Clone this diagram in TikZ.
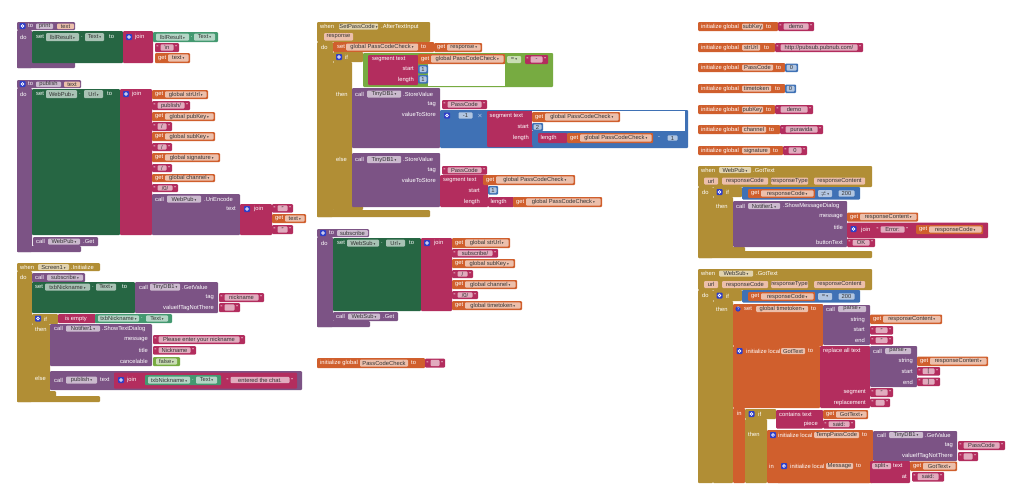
\documentclass[tikz,border=0pt]{standalone}
\usepackage{fontspec}
\setmainfont{Liberation Sans}
\newfontfamily\symfont{DejaVu Sans}

\definecolor{procC}{HTML}{7C5385}
\definecolor{setC}{HTML}{266643}
\definecolor{getC}{HTML}{439970}
\definecolor{txtC}{HTML}{B32D5E}
\definecolor{varC}{HTML}{D05F2D}
\definecolor{ctlC}{HTML}{B18E35}
\definecolor{mathC}{HTML}{3F71B5}
\definecolor{logC}{HTML}{77AB41}
\definecolor{gearC}{HTML}{2F3FC8}

\newcommand\aifont{\fontsize{5.8}{6.5}\selectfont}
\newcommand\dd{\,{\symfont\fontsize{3.5}{4}\selectfont ▾}}

\tikzset{
	blklbl/.style={anchor=west, inner sep=0pt, text=white, font=\aifont},
	fldlbl/.style={inner sep=0pt, text=black!80, font=\aifont}
}

\newcount\lblno
% block body, label, field
\newcommand\aiblk[5]{\fill[#1, rounded corners=1pt] ({#2},{#3}) rectangle ({#4},{#5});}
\newcommand\ailbl[4][]{\global\advance\lblno by 1\relax
	\node[blklbl,#1] (lbl\the\lblno) at ({#2},{#3}) {#4};}
\newcommand\aifld[6]{\fill[#1!40!white, rounded corners=1pt] ({#2},{#3}) rectangle ({#4},{#5});
	\global\advance\lblno by 1\relax
	\node[fldlbl] (fld\the\lblno) at ({(#2+#4)/2},{(#3+#5)/2}) {#6};}
% get, text and number blocks
\newcommand\aiget[5]{\aiblk{varC}{#1}{#2}{#3}{#4}
	\ailbl{#1+3}{(#2+#4)/2}{get}
	\aifld{varC}{#1+13}{#2+1.3}{#3-1.5}{#4-1.3}{#5\dd}}
\newcommand\aistr[5]{\aiblk{txtC}{#1}{#2}{#3}{#4}
	\ailbl{#1+1.5}{(#2+#4)/2}{“}
	\ailbl[anchor=east]{#3-1.5}{(#2+#4)/2}{”}
	\aifld{txtC}{#1+5.5}{#2+1.3}{#3-5.5}{#4-1.3}{#5}}
\newcommand\ainum[5]{\aiblk{mathC}{#1}{#2}{#3}{#4}
	\aifld{mathC}{#1+1.5}{#2+1.3}{#3-1.5}{#4-1.3}{#5}}
\newcommand\aigear[2]{\fill[gearC, rounded corners=0.8pt] ({#1},{#2}) rectangle ++(6,6);
	\draw[white, line width=0.6pt] ({#1+3},{#2+3}) circle (1.4);}

\begin{document}
\begin{tikzpicture}[x=1pt, y=-1pt]
	\fill[white] (0,0) rectangle (1024,483);
	\useasboundingbox (0,0) rectangle (1024,483);

	% to print
	\aiblk{procC}{17}{22}{75}{30}
	\aiblk{procC}{17}{30}{32}{68}
	\aiblk{procC}{17}{62}{75}{68}
	\aigear{19.5}{23}
	\ailbl{28}{26}{to}
	\aifld{procC}{36}{23.5}{53}{29}{print}
	\aifld{varC}{57}{23.5}{74}{29}{text}
	\ailbl{20}{37}{do}
	\aiblk{setC}{32}{31}{123}{63}
	\ailbl{36}{37}{set}
	\aifld{setC}{46}{33}{79}{41}{lblResult\dd}
	\ailbl{81}{37}{.}
	\aifld{setC}{85}{33}{104}{41}{Text\dd}
	\ailbl{109}{37}{to}
	\aiblk{txtC}{123}{31}{153}{63}
	\aigear{126}{34}
	\ailbl{135}{37}{join}
	\aiblk{getC}{153}{32}{218}{42}
	\aifld{getC}{156}{33.5}{189}{40.5}{lblResult\dd}
	\ailbl{190.5}{37}{.}
	\aifld{getC}{194}{33.5}{215}{40.5}{Text\dd}
	\aistr{155}{43}{179}{52}{\textbackslash n}
	\aiget{155}{53}{190}{63}{text}

	% to publish
	\aiblk{procC}{17}{80}{81}{88}
	\aiblk{procC}{17}{88}{32}{252}
	\aiblk{procC}{17}{246}{81}{252}
	\aigear{19.5}{81}
	\ailbl{28}{84}{to}
	\aifld{procC}{36}{81.5}{61}{87}{publish}
	\aifld{varC}{64}{81.5}{80}{87}{text}
	\ailbl{20}{94}{do}
	\aiblk{setC}{32}{89}{120}{235}
	\ailbl{36}{94}{set}
	\aifld{setC}{46}{90}{77}{98}{WebPub\dd}
	\ailbl{79}{94}{.}
	\aifld{setC}{84}{90}{103}{98}{Url\dd}
	\ailbl{107}{94}{to}
	\aiblk{txtC}{120}{89}{152}{235}
	\aigear{123}{91}
	\ailbl{132}{94}{join}
	\aiget{152}{90}{208}{99}{global strUrl}
	\aistr{152}{101}{190}{110}{publish/}
	\aiget{152}{112}{215}{121}{global pubKey}
	\aistr{152}{122}{172}{131}{/}
	\aiget{152}{132}{215}{141}{global subKey}
	\aistr{152}{143}{172}{151}{/}
	\aiget{152}{153}{220}{162}{global signature}
	\aistr{152}{164}{172}{172}{/}
	\aiget{152}{174}{215}{182}{global channel}
	\aistr{152}{184}{178}{192}{/0/}
	\aiblk{procC}{152}{194}{240}{235}
	\ailbl{155}{199}{call}
	\aifld{procC}{167}{195.5}{201}{202.5}{WebPub\dd}
	\ailbl{204}{199}{.UriEncode}
	\ailbl[anchor=east]{236}{209}{text}
	\aiblk{txtC}{240}{204}{272}{235}
	\aigear{244}{206}
	\ailbl{254}{209}{join}
	\aistr{272}{204}{293}{212.5}{"}
	\aiget{272}{214}{306}{223}{text}
	\aistr{272}{225}{293}{234}{"}
	\aiblk{procC}{33}{237}{98}{246}
	\ailbl{36}{241.5}{call}
	\aifld{procC}{48}{238.5}{80}{244.5}{WebPub\dd}
	\ailbl{83}{241.5}{.Get}

	% when Screen1.Initialize
	\aiblk{ctlC}{17}{263}{100}{271}
	\aiblk{ctlC}{17}{271}{32}{402}
	\aiblk{ctlC}{17}{396}{100}{402}
	\ailbl{20}{267}{when}
	\aifld{ctlC}{38}{264}{69}{270}{Screen1\dd}
	\ailbl{71}{267}{.Initialize}
	\ailbl{20}{277}{do}
	\aiblk{procC}{32}{273}{85}{282}
	\ailbl{35}{277.5}{call}
	\aifld{procC}{47}{274.5}{83}{280.5}{subscribe\dd}
	\aiblk{setC}{32}{282}{135}{313}
	\ailbl{35}{287}{set}
	\aifld{setC}{45}{283.5}{90}{290.5}{txbNickname\dd}
	\ailbl{92}{287}{.}
	\aifld{setC}{96}{283.5}{116}{290.5}{Text\dd}
	\ailbl{122}{287}{to}
	\aiblk{procC}{135}{282}{218}{313}
	\ailbl{139}{287}{call}
	\aifld{procC}{150}{283.5}{180}{290.5}{TinyDB1\dd}
	\ailbl{182}{287}{.GetValue}
	\ailbl[anchor=east]{214}{297.5}{tag}
	\ailbl[anchor=east]{214}{307.5}{valueIfTagNotThere}
	\aistr{219}{293}{264}{302}{nickname}
	\aistr{219}{303}{240}{312}{}
	\aiblk{ctlC}{32}{314}{58}{324}
	\aiblk{ctlC}{32}{324}{50}{397}
	\aiblk{ctlC}{32}{391}{56}{397}
	\aigear{35}{315.5}
	\ailbl{44}{319}{if}
	\ailbl{35}{329}{then}
	\ailbl{35}{378}{else}
	\aiblk{txtC}{58}{314}{96}{323}
	\ailbl{65}{318.5}{is empty}
	\aiblk{getC}{95}{314}{172}{323}
	\aifld{getC}{98}{315.3}{139}{321.7}{txbNickname\dd}
	\ailbl{141}{318.5}{.}
	\aifld{getC}{146}{315.3}{168}{321.7}{Text\dd}
	\aiblk{procC}{50}{324}{152}{366}
	\ailbl{54}{328.5}{call}
	\aifld{procC}{66}{325.5}{100}{331.5}{Notifier1\dd}
	\ailbl{102}{328.5}{.ShowTextDialog}
	\ailbl[anchor=east]{148}{340}{message}
	\ailbl[anchor=east]{148}{350}{title}
	\ailbl[anchor=east]{148}{361.5}{cancelable}
	\aistr{153}{335}{245}{344}{Please enter your nickname}
	\aistr{153}{346}{196}{354.5}{Nickname}
	\aiblk{logC}{153}{357}{180}{366}
	\aifld{logC}{156}{358.3}{177}{364.7}{false\dd}
	\aiblk{procC}{50}{371}{302}{390}
	\ailbl{54}{380}{call}
	\aifld{procC}{66}{376.5}{97}{383.5}{publish\dd}
	\ailbl{100}{380}{text}
	\aiblk{txtC}{114}{372.5}{297}{388.5}
	\aigear{118}{377}
	\ailbl{127}{380}{join}
	\aiblk{getC}{145}{375}{221}{385}
	\aifld{getC}{148}{376.5}{190}{383.5}{txbNickname\dd}
	\ailbl{192}{380}{.}
	\aifld{getC}{196}{376.5}{217}{383.5}{Text\dd}
	\aistr{225}{375.5}{295}{384.5}{entered the chat.}

	% when SetPassCode.AfterTextInput
	\aiblk{ctlC}{317}{22}{430}{42}
	\aiblk{ctlC}{317}{42}{333}{217}
	\aiblk{ctlC}{317}{210}{430}{217}
	\ailbl{320}{26.5}{when}
	\aifld{ctlC}{339}{23.5}{378}{29.5}{SetPassCode\dd}
	\ailbl{381}{26.5}{.AfterTextInput}
	\aifld{varC}{324}{33}{353}{40.5}{response}
	\ailbl{321}{47}{do}
	\aiblk{varC}{333}{42}{434}{52}
	\ailbl{337}{47}{set}
	\aifld{varC}{346}{43.5}{418}{50.5}{global PassCodeCheck\dd}
	\ailbl{421}{47}{to}
	\aiget{434}{43}{482}{52}{response}
	\aiblk{ctlC}{333}{52}{363}{62}
	\aiblk{ctlC}{333}{62}{352}{210}
	\aiblk{ctlC}{333}{204}{363}{210}
	\aigear{336}{54}
	\ailbl{345}{57}{if}
	\ailbl{336}{94}{then}
	\ailbl{336}{159}{else}
	\aiblk{logC}{363}{53}{553}{87}
	\aiblk{txtC}{368}{55}{418}{85}
	\ailbl{372}{59.5}{segment text}
	\ailbl[anchor=east]{414}{69}{start}
	\ailbl[anchor=east]{414}{79.5}{length}
	\fill[white] (428,64) rectangle (505,86);
	\aiget{418}{54}{505}{64}{global PassCodeCheck}
	\ainum{418}{65}{428}{73.5}{1}
	\ainum{418}{75}{428}{83.5}{1}
	\aifld{logC}{507}{56}{521}{63}{=\dd}
	\aistr{525}{55}{548}{64}{-}
	\aiblk{procC}{352}{88}{440}{148}
	\ailbl{355}{94}{call}
	\aifld{procC}{367}{90.5}{401}{97.5}{TinyDB1\dd}
	\ailbl{403}{94}{.StoreValue}
	\ailbl[anchor=east]{436}{104.5}{tag}
	\ailbl[anchor=east]{436}{114.5}{valueToStore}
	\aistr{442}{100}{487}{109}{PassCode}
	\aiblk{mathC}{440}{110}{688}{148}
	\aigear{444}{112.5}
	\ainum{457}{111}{474}{120}{-1}
	\ailbl{477}{116}{\ensuremath{\times}}
	\aiblk{txtC}{487}{111}{533}{147}
	\ailbl{489.5}{116.5}{segment text}
	\ailbl[anchor=east]{529}{127}{start}
	\ailbl[anchor=east]{529}{138}{length}
	\fill[white] (532,111) rectangle (685,131);
	\aiget{532}{112}{620}{122}{global PassCodeCheck}
	\ainum{532}{123}{543}{131}{2}
	\aiblk{mathC}{532}{131}{685}{146}
	\aiblk{txtC}{538}{133}{567}{143}
	\ailbl{540.5}{138}{length}
	\aiget{567}{133}{653}{143}{global PassCodeCheck}
	\ailbl{658}{138}{-}
	\ainum{666}{134}{679}{142}{1}
	\aiblk{procC}{352}{153}{440}{207}
	\ailbl{355}{159.5}{call}
	\aifld{procC}{367}{156}{401}{163}{TinyDB1\dd}
	\ailbl{403}{159.5}{.StoreValue}
	\ailbl[anchor=east]{436}{170}{tag}
	\ailbl[anchor=east]{436}{180}{valueToStore}
	\aistr{442}{166}{487}{174.5}{PassCode}
	\aiblk{txtC}{440}{175}{488}{207}
	\ailbl{443}{180}{segment text}
	\ailbl[anchor=east]{480}{191}{start}
	\ailbl[anchor=east]{480}{202}{length}
	\aiget{483}{175}{575}{185}{global PassCodeCheck}
	\ainum{488}{186}{498}{194.5}{1}
	\aiblk{txtC}{488}{197}{514}{207}
	\ailbl{490.5}{202}{length}
	\aiget{513}{197}{602}{207}{global PassCodeCheck}

	% to subscribe
	\aiblk{procC}{317}{229}{369}{237}
	\aiblk{procC}{317}{237}{333}{327}
	\aiblk{procC}{317}{321}{370}{327}
	\aigear{320}{230}
	\ailbl{329}{233}{to}
	\aifld{procC}{337}{230}{368}{236}{subscribe}
	\ailbl{321}{243}{do}
	\aiblk{setC}{333}{238}{421}{311}
	\ailbl{337}{243}{set}
	\aifld{setC}{347}{239.5}{379}{246.5}{WebSub\dd}
	\ailbl{381}{243}{.}
	\aifld{setC}{386}{239.5}{405}{246.5}{Url\dd}
	\ailbl{409}{243}{to}
	\aiblk{txtC}{421}{238}{452}{311}
	\aigear{424}{240}
	\ailbl{434}{243}{join}
	\aiget{452}{238}{510}{248}{global strUrl}
	\aistr{452}{249}{498}{257.5}{subscribe/}
	\aiget{452}{259}{515}{268}{global subKey}
	\aistr{452}{270}{473}{278}{/}
	\aiget{452}{280}{517}{289}{global channel}
	\aistr{452}{291}{478}{299}{/0/}
	\aiget{452}{301}{522}{310}{global timetoken}
	\aiblk{procC}{333}{312}{398}{321}
	\ailbl{336}{316.5}{call}
	\aifld{procC}{348}{313.5}{380}{319.5}{WebSub\dd}
	\ailbl{383}{316.5}{.Get}

	% initialize global PassCodeCheck
	\aiblk{varC}{317}{358}{425}{368}
	\ailbl{320}{363}{initialize global}
	\aifld{varC}{360}{359.5}{408}{366.5}{PassCodeCheck}
	\ailbl{411}{363}{to}
	\aistr{425}{358.5}{445}{367.5}{}

	% initialize globals
	\aiblk{varC}{698}{22}{778}{31}
	\ailbl{701}{26.5}{initialize global}
	\aifld{varC}{742}{23.5}{763}{29.5}{subKey}
	\ailbl{766}{26.5}{to}
	\aistr{778}{22}{814}{31}{demo}
	\aiblk{varC}{698}{43}{775}{52}
	\ailbl{701}{47.5}{initialize global}
	\aifld{varC}{742}{44.5}{760}{50.5}{strUrl}
	\ailbl{764}{47.5}{to}
	\aistr{775}{43}{863}{52}{http://pubsub.pubnub.com/}
	\aiblk{varC}{698}{63}{785}{72}
	\ailbl{701}{67.5}{initialize global}
	\aifld{varC}{742}{64.5}{773}{70.5}{PassCode}
	\ailbl{776}{67.5}{to}
	\ainum{785}{63.5}{798}{72}{0}
	\aiblk{varC}{698}{84}{785}{93}
	\ailbl{701}{88.5}{initialize global}
	\aifld{varC}{742}{85.5}{771}{91.5}{timetoken}
	\ailbl{775}{88.5}{to}
	\ainum{785}{84.5}{796}{93}{0}
	\aiblk{varC}{698}{105}{775}{114}
	\ailbl{701}{109.5}{initialize global}
	\aifld{varC}{742}{106.5}{763}{112.5}{pubKey}
	\ailbl{766}{109.5}{to}
	\aistr{775}{105}{813}{114}{demo}
	\aiblk{varC}{698}{125}{780}{134}
	\ailbl{701}{129.5}{initialize global}
	\aifld{varC}{742}{126.5}{766}{132.5}{channel}
	\ailbl{769}{129.5}{to}
	\aistr{780}{125}{823}{134}{puravida}
	\aiblk{varC}{698}{146}{783}{155}
	\ailbl{701}{150.5}{initialize global}
	\aifld{varC}{742}{147.5}{770}{153.5}{signature}
	\ailbl{773}{150.5}{to}
	\aistr{783}{146}{807}{155}{0}

	% when WebPub.GotText
	\aiblk{ctlC}{698}{166}{872}{187}
	\aiblk{ctlC}{698}{187}{713}{258}
	\aiblk{ctlC}{698}{251}{872}{258}
	\ailbl{701}{170}{when}
	\aifld{ctlC}{719}{167}{751}{173}{WebPub\dd}
	\ailbl{753}{170}{.GotText}
	\aifld{varC}{704}{177.5}{718}{184.5}{url}
	\aifld{varC}{722}{177.5}{768}{184.5}{responseCode}
	\aifld{varC}{771}{177.5}{808}{184.5}{responseType}
	\aifld{varC}{814}{177.5}{865}{184.5}{responseContent}
	\ailbl{702}{192}{do}
	\aiblk{ctlC}{713}{187}{742}{197}
	\aiblk{ctlC}{713}{197}{733}{253}
	\aiblk{ctlC}{713}{247}{745}{253}
	\aigear{716.5}{189}
	\ailbl{726}{192}{if}
	\ailbl{716}{206}{then}
	\aiblk{mathC}{742}{187}{860}{199.5}
	\aiget{748}{189}{815}{198}{responseCode}
	\aifld{mathC}{818}{190}{832}{197}{\ensuremath{\neq}\dd}
	\ainum{837}{189}{856}{198}{200}
	\aiblk{procC}{733}{201}{847}{247}
	\ailbl{736}{206}{call}
	\aifld{procC}{748}{203}{780}{209}{Notifier1\dd}
	\ailbl{783}{206}{.ShowMessageDialog}
	\ailbl[anchor=east]{843}{217}{message}
	\ailbl[anchor=east]{843}{227.5}{title}
	\ailbl[anchor=east]{843}{242.5}{buttonText}
	\aiget{847}{212.5}{918}{221.5}{responseContent}
	\aiblk{txtC}{847}{222.5}{988}{238}
	\aigear{850.5}{226}
	\ailbl{861}{229.5}{join}
	\aistr{875}{225}{910}{234}{Error: }
	\aiget{916}{225}{983}{234}{responseCode}
	\aistr{847}{238.5}{875}{247}{OK}

	% when WebSub.GotText
	\aiblk{ctlC}{698}{269}{872}{290}
	\aiblk{ctlC}{698}{290}{713}{483}
	\ailbl{701}{273.5}{when}
	\aifld{ctlC}{719}{270.5}{753}{276.5}{WebSub\dd}
	\ailbl{756}{273.5}{.GotText}
	\aifld{varC}{704}{281}{718}{288}{url}
	\aifld{varC}{722}{281}{768}{288}{responseCode}
	\aifld{varC}{771}{281}{808}{288}{responseType}
	\aifld{varC}{814}{281}{865}{288}{responseContent}
	\ailbl{702}{295}{do}
	\aiblk{ctlC}{713}{290}{742}{301}
	\aiblk{ctlC}{713}{301}{733}{483}
	\aigear{716.5}{292.5}
	\ailbl{726}{296}{if}
	\ailbl{716}{309}{then}
	\aiblk{mathC}{742}{290}{860}{302.5}
	\aiget{748}{292}{815}{301}{responseCode}
	\aifld{mathC}{818}{293}{832}{300}{=\dd}
	\ainum{837}{292}{856}{301}{200}
	\aiblk{varC}{733}{304}{823}{346}
	\fill[gearC] (738,309) circle (2.6);
	\ailbl{736.6}{309}{\tiny ?}
	\ailbl{744}{309}{set}
	\aifld{varC}{756}{306}{808}{312}{global timetoken\dd}
	\ailbl{811}{309}{to}
	\aiblk{procC}{823}{305}{870}{345}
	\ailbl{826}{309}{call}
	\aifld{procC}{838}{306}{866}{312}{parse\dd}
	\ailbl[anchor=east]{865}{319.5}{string}
	\ailbl[anchor=east]{865}{330}{start}
	\ailbl[anchor=east]{865}{340}{end}
	\aiget{870}{314.5}{942}{324}{responseContent}
	\aistr{870}{326}{893}{334.5}{"}
	\aistr{870}{336}{893}{344.5}{"}
	\aiblk{varC}{733}{346}{820}{408}
	\aiblk{varC}{733}{408}{745}{483}
	\aigear{736.5}{348}
	\ailbl{746}{351}{initialize local}
	\aifld{varC}{781}{348}{805}{354}{GotText}
	\ailbl{808}{351}{to}
	\aiblk{txtC}{820}{346}{870}{408}
	\ailbl{823}{351}{replace all text}
	\ailbl[anchor=east]{866}{392.5}{segment}
	\ailbl[anchor=east]{866}{403}{replacement}
	\aiblk{procC}{870}{346}{917}{387}
	\ailbl{873}{351}{call}
	\aifld{procC}{885}{348}{911}{354}{parse\dd}
	\ailbl[anchor=east]{913}{361}{string}
	\ailbl[anchor=east]{913}{371.5}{start}
	\ailbl[anchor=east]{913}{382}{end}
	\aiget{917}{356.5}{988}{366}{responseContent}
	\aistr{917}{367}{940}{375.5}{[}
	\aistr{917}{377.5}{940}{386}{]}
	\aistr{870}{388}{893}{397}{"}
	\aistr{870}{398.5}{890}{407}{}
	\ailbl{737}{413}{in}
	\aiblk{ctlC}{745}{409}{776}{419}
	\aiblk{ctlC}{745}{419}{767}{483}
	\aigear{748.5}{411}
	\ailbl{758}{414}{if}
	\ailbl{748}{434.5}{then}
	\aiblk{txtC}{776}{410}{823}{428.5}
	\ailbl{779}{414.5}{contains text}
	\ailbl[anchor=east]{818}{424}{piece}
	\aiget{823}{410}{868}{419}{GotText}
	\aistr{823}{420}{855}{428.5}{said:}
	\aiblk{varC}{767}{430}{873}{483}
	\aigear{770}{432}
	\ailbl{778}{435}{initialize local}
	\aifld{varC}{814}{432}{859}{438}{TempPassCode}
	\ailbl{862}{435}{to}
	\aiblk{procC}{873}{431}{957}{461}
	\ailbl{877}{435}{call}
	\aifld{procC}{889}{432}{923}{438}{TinyDB1\dd}
	\ailbl{925}{435}{.GetValue}
	\ailbl[anchor=east]{953}{445.5}{tag}
	\ailbl[anchor=east]{953}{456}{valueIfTagNotThere}
	\aistr{958}{441}{1005}{450}{PassCode}
	\aistr{958}{452}{978}{461}{}
	\ailbl{769}{466}{in}
	\aiblk{varC}{777}{461}{870}{483}
	\aigear{781}{463}
	\ailbl{790}{466}{initialize local}
	\aifld{varC}{826}{463}{853}{469}{Message}
	\ailbl{856}{466}{to}
	\aiblk{txtC}{870}{461}{910}{483}
	\aifld{txtC}{872}{463}{891}{469}{split\dd}
	\ailbl{893}{466}{text}
	\ailbl[anchor=east]{907}{477}{at}
	\aiget{910}{461.5}{957}{471}{GotText}
	\aistr{912}{472}{944}{481.5}{said:}
\end{tikzpicture}
\end{document}
